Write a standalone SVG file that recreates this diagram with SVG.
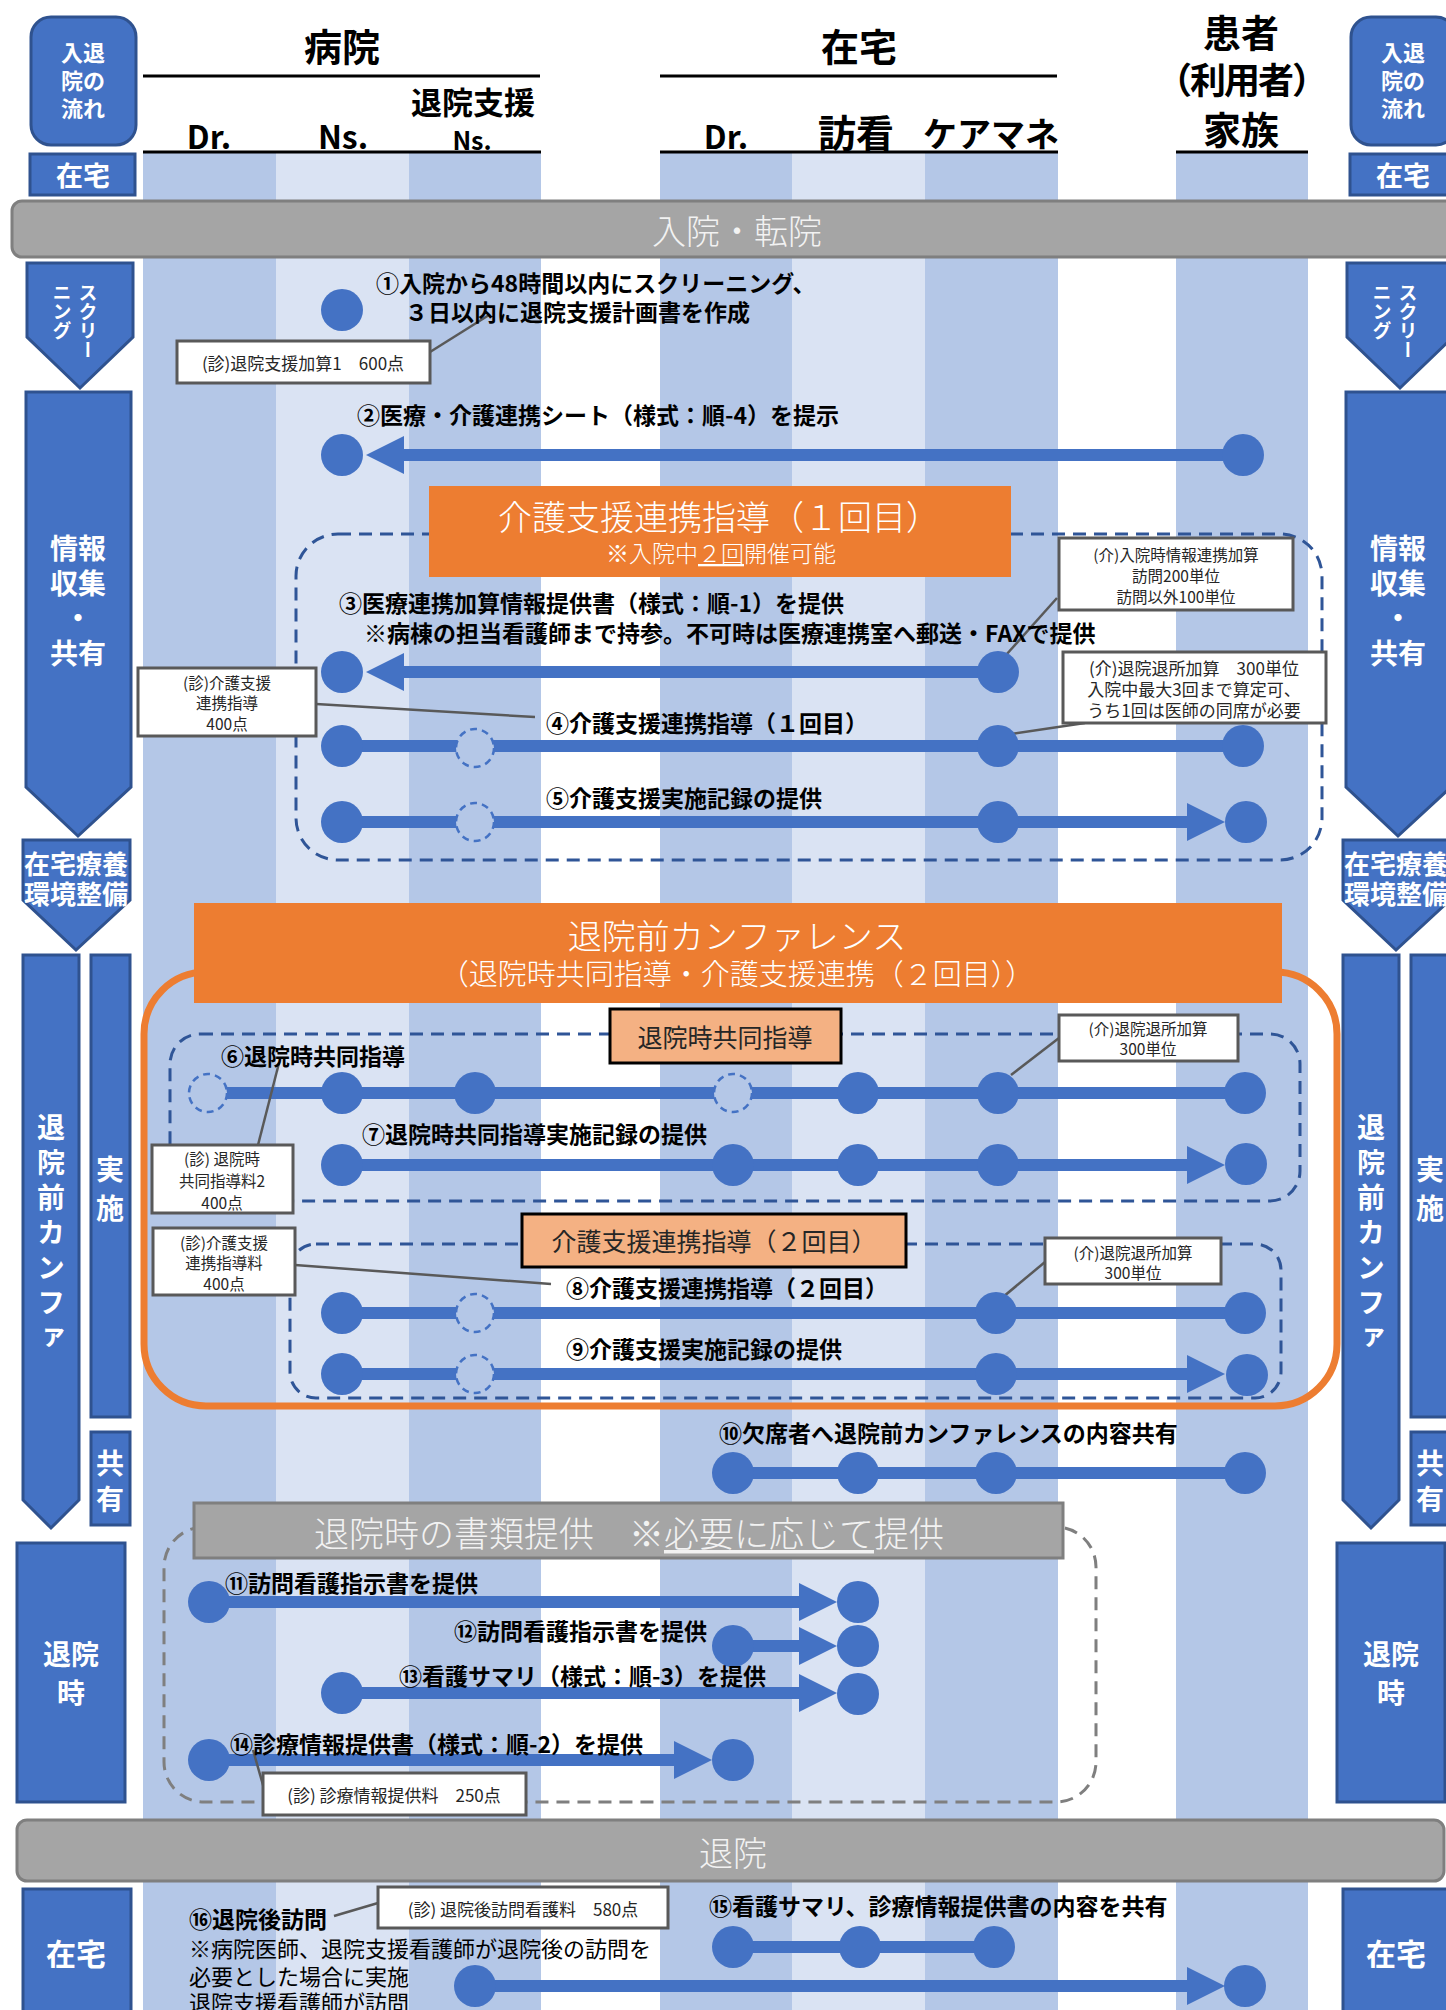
<svg xmlns="http://www.w3.org/2000/svg" width="1446" height="2010" viewBox="0 0 1446 2010">
<style>
text{font-family:"Noto Sans CJK JP","Noto Sans",sans-serif;dominant-baseline:central}
.ld-d{fill:#B4C7E7}.ld-l{fill:#DAE3F3}
.h{font-weight:700;fill:#000;text-anchor:middle}
.hl{stroke:#000;stroke-width:3}
.sb{fill:#4472C4;stroke:#2F528F;stroke-width:3}
.sbt{fill:#fff;font-weight:700;text-anchor:middle}
.bar{fill:#A5A5A5;stroke:#7F7F7F;stroke-width:3}
.bart{fill:#F2F2F2;font-weight:300;text-anchor:middle}
.ln{stroke:#4472C4;stroke-width:12;fill:none}
.ah{marker-end:url(#ah)}
.dot{fill:#4472C4}
.dc{fill:#B4C7E7;stroke:#4472C4;stroke-width:2.5;stroke-dasharray:7 5}
.lbl{font-size:23px;font-weight:700;fill:#000}
.nb{fill:#fff;stroke:#595959;stroke-width:3}
.nt{font-size:17px;fill:#262626;text-anchor:middle}
.ns{font-size:15.5px}
.ld{stroke:#595959;stroke-width:2.5}
.grp{fill:none;stroke:#2F5597;stroke-width:3;stroke-dasharray:13 8}
.ob{fill:#ED7D31}
.obt{fill:#fff;font-weight:300;text-anchor:middle}
.lb{fill:#F4B183;stroke:#000;stroke-width:3}
.lbt{fill:#262626;font-size:25px;text-anchor:middle}
</style>
<defs>
<marker id="ah" markerUnits="userSpaceOnUse" markerWidth="40" markerHeight="40" refX="0" refY="19" orient="auto" overflow="visible">
<path d="M0,0 L38,19 L0,38 z" fill="#4472C4"/>
</marker>
<g id="sidebar">
<rect class="sb" x="31" y="17" width="105" height="128" rx="20"/>
<text class="sbt" x="83" y="51" font-size="22" font-weight="400">入退</text>
<text class="sbt" x="83" y="79" font-size="22" font-weight="400">院の</text>
<text class="sbt" x="83" y="107" font-size="22" font-weight="400">流れ</text>
<rect class="sb" x="30" y="154" width="105" height="41"/>
<text class="sbt" x="83" y="174" font-size="27">在宅</text>
<polygon class="sb" points="27,263 133,263 133,337 80,388 27,337"/>
<text class="sbt" x="88" y="283" font-size="19" writing-mode="vertical-rl" style="text-anchor:start">スクリー</text>
<text class="sbt" x="62" y="283" font-size="19" writing-mode="vertical-rl" style="text-anchor:start">ニング</text>
<polygon class="sb" points="26,392 131,392 131,787 78,836 26,787"/>
<text class="sbt" x="78" y="547" font-size="28">情報</text>
<text class="sbt" x="78" y="582" font-size="28">収集</text>
<text class="sbt" x="78" y="617" font-size="28">・</text>
<text class="sbt" x="78" y="652" font-size="28">共有</text>
<polygon class="sb" points="23,840 130,840 130,900 76,950 23,900"/>
<text class="sbt" x="76" y="862" font-size="26">在宅療養</text>
<text class="sbt" x="76" y="892" font-size="26">環境整備</text>
<polygon class="sb" points="23,955 79,955 79,1500 51,1528 23,1500"/>
<text class="sbt" x="51" y="1113" font-size="28" writing-mode="vertical-rl" letter-spacing="7" style="text-anchor:start">退院前カンファ</text>
<rect class="sb" x="91" y="955" width="39" height="462"/>
<text class="sbt" x="110" y="1168" font-size="28">実</text>
<text class="sbt" x="110" y="1207" font-size="28">施</text>
<rect class="sb" x="91" y="1432" width="39" height="93"/>
<text class="sbt" x="110" y="1462" font-size="28">共</text>
<text class="sbt" x="110" y="1498" font-size="28">有</text>
<rect class="sb" x="17" y="1543" width="108" height="259"/>
<text class="sbt" x="71" y="1653" font-size="28">退院</text>
<text class="sbt" x="71" y="1692" font-size="28">時</text>
<rect class="sb" x="23" y="1889" width="108" height="130"/>
<text class="sbt" x="76" y="1952" font-size="30">在宅</text>
</g>
</defs>

<g id="lanes">
<rect class="ld-d" x="143" y="153" width="133" height="1857"/>
<rect class="ld-l" x="276" y="153" width="133" height="1857"/>
<rect class="ld-d" x="409" y="153" width="132" height="1857"/>
<rect class="ld-d" x="660" y="153" width="132" height="1857"/>
<rect class="ld-l" x="792" y="153" width="133" height="1857"/>
<rect class="ld-d" x="925" y="153" width="133" height="1857"/>
<rect class="ld-d" x="1176" y="153" width="132" height="1857"/>
</g>

<g id="header">
<text class="h" x="342" y="44" font-size="38">病院</text>
<line class="hl" x1="143" y1="76" x2="540" y2="76"/>
<text class="h" x="473" y="100" font-size="31">退院支援</text>
<text class="h" x="209" y="135" font-size="32">Dr.</text>
<text class="h" x="343" y="135" font-size="32">Ns.</text>
<text class="h" x="472" y="139" font-size="25">Ns.</text>
<line class="hl" x1="143" y1="152" x2="541" y2="152"/>
<text class="h" x="859" y="44" font-size="38">在宅</text>
<line class="hl" x1="660" y1="76" x2="1057" y2="76"/>
<text class="h" x="726" y="135" font-size="32">Dr.</text>
<text class="h" x="856" y="130" font-size="38">訪看</text>
<text class="h" x="991" y="132" font-size="34">ケアマネ</text>
<line class="hl" x1="660" y1="152" x2="1058" y2="152"/>
<text class="h" x="1241" y="30" font-size="38">患者</text>
<text class="h" x="1241" y="78" font-size="36" letter-spacing="-2">（利用者）</text>
<text class="h" x="1241" y="127" font-size="38">家族</text>
<line class="hl" x1="1176" y1="152" x2="1308" y2="152"/>
</g>

<g id="flow-left"><use href="#sidebar"/></g>
<g id="flow-right" transform="translate(1320,0)"><use href="#sidebar"/></g>

<g id="bar-admission">
<rect class="bar" x="12" y="201" width="1460" height="56" rx="10"/>
<text class="bart" x="737" y="229" font-size="34">入院・転院</text>
</g>
<g id="bar-discharge">
<rect class="bar" x="17" y="1820" width="1427" height="61" rx="10"/>
<text class="bart" x="733" y="1851" font-size="34">退院</text>
</g>

<g id="groups">
<rect class="grp" x="296" y="534" width="1026" height="326" rx="42"/>
<rect x="144" y="972" width="1193" height="434" rx="62" fill="none" stroke="#ED7D31" stroke-width="7"/>
<rect class="grp" x="170" y="1034" width="1130" height="167" rx="30"/>
<rect class="grp" x="290" y="1244" width="991" height="154" rx="26"/>
<rect x="164" y="1527" width="932" height="275" rx="40" fill="none" stroke="#7F7F7F" stroke-width="3" stroke-dasharray="13 8"/>
</g>

<g id="title-care1">
<rect class="ob" x="429" y="486" width="582" height="91"/>
<text class="obt" x="719" y="515" font-size="34">介護支援連携指導（１回目）</text>
<text class="obt" x="721" y="552" font-size="23">※入院中<tspan text-decoration="underline" style="text-decoration:underline">２回</tspan>開催可能</text>
</g>
<g id="title-conf">
<rect class="ob" x="194" y="903" width="1088" height="100"/>
<text class="obt" x="737" y="934" font-size="34">退院前カンファレンス</text>
<text class="obt" x="737" y="972" font-size="29">（退院時共同指導・介護支援連携（２回目））</text>
</g>
<g id="title-joint">
<rect class="lb" x="610" y="1009" width="231" height="54"/>
<text class="lbt" x="725" y="1036">退院時共同指導</text>
</g>
<g id="title-care2">
<rect class="lb" x="522" y="1214" width="384" height="53"/>
<text class="lbt" x="714" y="1240">介護支援連携指導（２回目）</text>
</g>
<g id="title-docs">
<rect class="bar" x="194" y="1503" width="869" height="55"/>
<text class="bart" x="629" y="1531" font-size="35">退院時の書類提供　※<tspan style="text-decoration:underline">必要に応じて</tspan>提供</text>
</g>

<g id="connectors">
<line class="ln ah" x1="1242" y1="455" x2="404" y2="455"/>
<line class="ln ah" x1="998" y1="672" x2="404" y2="672"/>
<line class="ln" x1="342" y1="746" x2="1242" y2="746"/>
<line class="ln ah" x1="342" y1="822" x2="1187" y2="822"/>
<line class="ln" x1="208" y1="1093" x2="1245" y2="1093"/>
<line class="ln ah" x1="342" y1="1165" x2="1187" y2="1165"/>
<line class="ln" x1="342" y1="1313" x2="1245" y2="1313"/>
<line class="ln ah" x1="342" y1="1374" x2="1187" y2="1374"/>
<line class="ln" x1="733" y1="1473" x2="1245" y2="1473"/>
<line class="ln ah" x1="208" y1="1602" x2="799" y2="1602"/>
<line class="ln ah" x1="733" y1="1646" x2="799" y2="1646"/>
<line class="ln ah" x1="342" y1="1693" x2="799" y2="1693"/>
<line class="ln ah" x1="208" y1="1760" x2="674" y2="1760"/>
<line class="ln" x1="733" y1="1947" x2="994" y2="1947"/>
<line class="ln ah" x1="475" y1="1986" x2="1187" y2="1986"/>
</g>

<g id="leaders">
<line class="ld" x1="430" y1="352" x2="489" y2="315"/>
<line class="ld" x1="1057" y1="598" x2="1006" y2="655"/>
<line class="ld" x1="316" y1="704" x2="535" y2="717"/>
<line class="ld" x1="1085" y1="723" x2="1011" y2="734"/>
<line class="ld" x1="1059" y1="1038" x2="1011" y2="1075"/>
<line class="ld" x1="258" y1="1145" x2="279" y2="1063"/>
<line class="ld" x1="295" y1="1265" x2="551" y2="1284"/>
<line class="ld" x1="1045" y1="1262" x2="997" y2="1302"/>
<line class="ld" x1="253" y1="1750" x2="265" y2="1792"/>
<line class="ld" x1="334" y1="1916" x2="378" y2="1903"/>
</g>

<g id="step1">
<circle class="dot" cx="342" cy="310" r="21"/>
<text class="lbl" x="376" y="282">①入院から48時間以内にスクリーニング、</text>
<text class="lbl" x="405" y="311">３日以内に退院支援計画書を作成</text>
<rect class="nb" x="177" y="341" width="253" height="42"/>
<text class="nt" x="303" y="362">(診)退院支援加算1　600点</text>
</g>
<g id="step2">
<circle class="dot" cx="342" cy="455" r="21"/>
<circle class="dot" cx="1243" cy="455" r="21"/>
<text class="lbl" x="357" y="414">②医療・介護連携シート（様式：順-4）を提示</text>
</g>
<g id="step3">
<circle class="dot" cx="342" cy="672" r="21"/>
<circle class="dot" cx="998" cy="672" r="21"/>
<text class="lbl" x="339" y="602">③医療連携加算情報提供書（様式：順-1）を提供</text>
<text class="lbl" x="364" y="632">※病棟の担当看護師まで持参。不可時は医療連携室へ郵送・FAXで提供</text>
<rect class="nb" x="1059" y="538" width="234" height="72"/>
<text class="nt ns" x="1176" y="554">(介)入院時情報連携加算</text>
<text class="nt ns" x="1176" y="575">訪問200単位</text>
<text class="nt ns" x="1176" y="596">訪問以外100単位</text>
</g>
<g id="step4">
<circle class="dot" cx="342" cy="746" r="21"/>
<circle class="dc" cx="475" cy="748" r="19"/>
<circle class="dot" cx="998" cy="746" r="21"/>
<circle class="dot" cx="1243" cy="746" r="21"/>
<text class="lbl" x="546" y="722">④介護支援連携指導（１回目）</text>
<rect class="nb" x="138" y="668" width="178" height="68"/>
<text class="nt ns" x="227" y="682">(診)介護支援</text>
<text class="nt ns" x="227" y="702">連携指導</text>
<text class="nt ns" x="227" y="723">400点</text>
<rect class="nb" x="1063" y="652" width="263" height="71"/>
<text class="nt" x="1194" y="667">(介)退院退所加算　300単位</text>
<text class="nt" x="1194" y="688">入院中最大3回まで算定可、</text>
<text class="nt" x="1194" y="709">うち1回は医師の同席が必要</text>
</g>
<g id="step5">
<circle class="dot" cx="342" cy="822" r="21"/>
<circle class="dc" cx="475" cy="822" r="19"/>
<circle class="dot" cx="998" cy="822" r="21"/>
<circle class="dot" cx="1246" cy="822" r="21"/>
<text class="lbl" x="546" y="797">⑤介護支援実施記録の提供</text>
</g>
<g id="step6">
<circle class="dc" cx="208" cy="1093" r="19"/>
<circle class="dot" cx="342" cy="1093" r="21"/>
<circle class="dot" cx="475" cy="1093" r="21"/>
<circle class="dc" cx="733" cy="1093" r="19"/>
<circle class="dot" cx="858" cy="1093" r="21"/>
<circle class="dot" cx="998" cy="1093" r="21"/>
<circle class="dot" cx="1245" cy="1093" r="21"/>
<text class="lbl" x="221" y="1055">⑥退院時共同指導</text>
<rect class="nb" x="1059" y="1015" width="179" height="46"/>
<text class="nt ns" x="1148" y="1028">(介)退院退所加算</text>
<text class="nt ns" x="1148" y="1048">300単位</text>
<rect class="nb" x="152" y="1145" width="141" height="68"/>
<text class="nt ns" x="222" y="1158">(診) 退院時</text>
<text class="nt ns" x="222" y="1180">共同指導料2</text>
<text class="nt ns" x="222" y="1202">400点</text>
</g>
<g id="step7">
<circle class="dot" cx="342" cy="1165" r="21"/>
<circle class="dot" cx="733" cy="1165" r="21"/>
<circle class="dot" cx="858" cy="1165" r="21"/>
<circle class="dot" cx="998" cy="1165" r="21"/>
<circle class="dot" cx="1246" cy="1164" r="21"/>
<text class="lbl" x="362" y="1133">⑦退院時共同指導実施記録の提供</text>
</g>
<g id="step8">
<circle class="dot" cx="342" cy="1313" r="21"/>
<circle class="dc" cx="475" cy="1313" r="19"/>
<circle class="dot" cx="996" cy="1313" r="21"/>
<circle class="dot" cx="1245" cy="1313" r="21"/>
<text class="lbl" x="566" y="1287">⑧介護支援連携指導（２回目）</text>
<rect class="nb" x="153" y="1228" width="142" height="67"/>
<text class="nt ns" x="224" y="1242">(診)介護支援</text>
<text class="nt ns" x="224" y="1262">連携指導料</text>
<text class="nt ns" x="224" y="1283">400点</text>
<rect class="nb" x="1045" y="1238" width="176" height="46"/>
<text class="nt ns" x="1133" y="1252">(介)退院退所加算</text>
<text class="nt ns" x="1133" y="1272">300単位</text>
</g>
<g id="step9">
<circle class="dot" cx="342" cy="1374" r="21"/>
<circle class="dc" cx="475" cy="1374" r="19"/>
<circle class="dot" cx="996" cy="1374" r="21"/>
<circle class="dot" cx="1247" cy="1375" r="21"/>
<text class="lbl" x="566" y="1348">⑨介護支援実施記録の提供</text>
</g>
<g id="step10">
<circle class="dot" cx="733" cy="1473" r="21"/>
<circle class="dot" cx="858" cy="1473" r="21"/>
<circle class="dot" cx="996" cy="1473" r="21"/>
<circle class="dot" cx="1245" cy="1473" r="21"/>
<text class="lbl" x="719" y="1432">⑩欠席者へ退院前カンファレンスの内容共有</text>
</g>
<g id="step11">
<circle class="dot" cx="209" cy="1602" r="21"/>
<circle class="dot" cx="858" cy="1602" r="21"/>
<text class="lbl" x="225" y="1582">⑪訪問看護指示書を提供</text>
</g>
<g id="step12">
<circle class="dot" cx="733" cy="1646" r="21"/>
<circle class="dot" cx="858" cy="1646" r="21"/>
<text class="lbl" x="454" y="1630">⑫訪問看護指示書を提供</text>
</g>
<g id="step13">
<circle class="dot" cx="342" cy="1693" r="21"/>
<circle class="dot" cx="858" cy="1694" r="21"/>
<text class="lbl" x="399" y="1675">⑬看護サマリ（様式：順-3）を提供</text>
</g>
<g id="step14">
<circle class="dot" cx="209" cy="1760" r="21"/>
<circle class="dot" cx="733" cy="1760" r="21"/>
<text class="lbl" x="230" y="1743">⑭診療情報提供書（様式：順-2）を提供</text>
<rect class="nb" x="263" y="1773" width="263" height="42"/>
<text class="nt" x="394" y="1794">(診) 診療情報提供料　250点</text>
</g>
<g id="step15">
<circle class="dot" cx="733" cy="1947" r="21"/>
<circle class="dot" cx="860" cy="1947" r="21"/>
<circle class="dot" cx="994" cy="1947" r="21"/>
<text class="lbl" x="709" y="1905">⑮看護サマリ、診療情報提供書の内容を共有</text>
</g>
<g id="step16">
<circle class="dot" cx="475" cy="1986" r="21"/>
<circle class="dot" cx="1245" cy="1986" r="21"/>
<text class="lbl" x="189" y="1918">⑯退院後訪問</text>
<rect class="nb" x="378" y="1887" width="290" height="41"/>
<text class="nt" x="523" y="1908">(診) 退院後訪問看護料　580点</text>
<text x="189" y="1947" font-size="22" fill="#000">※病院医師、退院支援看護師が退院後の訪問を</text>
<text x="189" y="1975" font-size="22" fill="#000">必要とした場合に実施</text>
<text x="189" y="2001" font-size="22" fill="#000">退院支援看護師が訪問</text>
</g>
</svg>
